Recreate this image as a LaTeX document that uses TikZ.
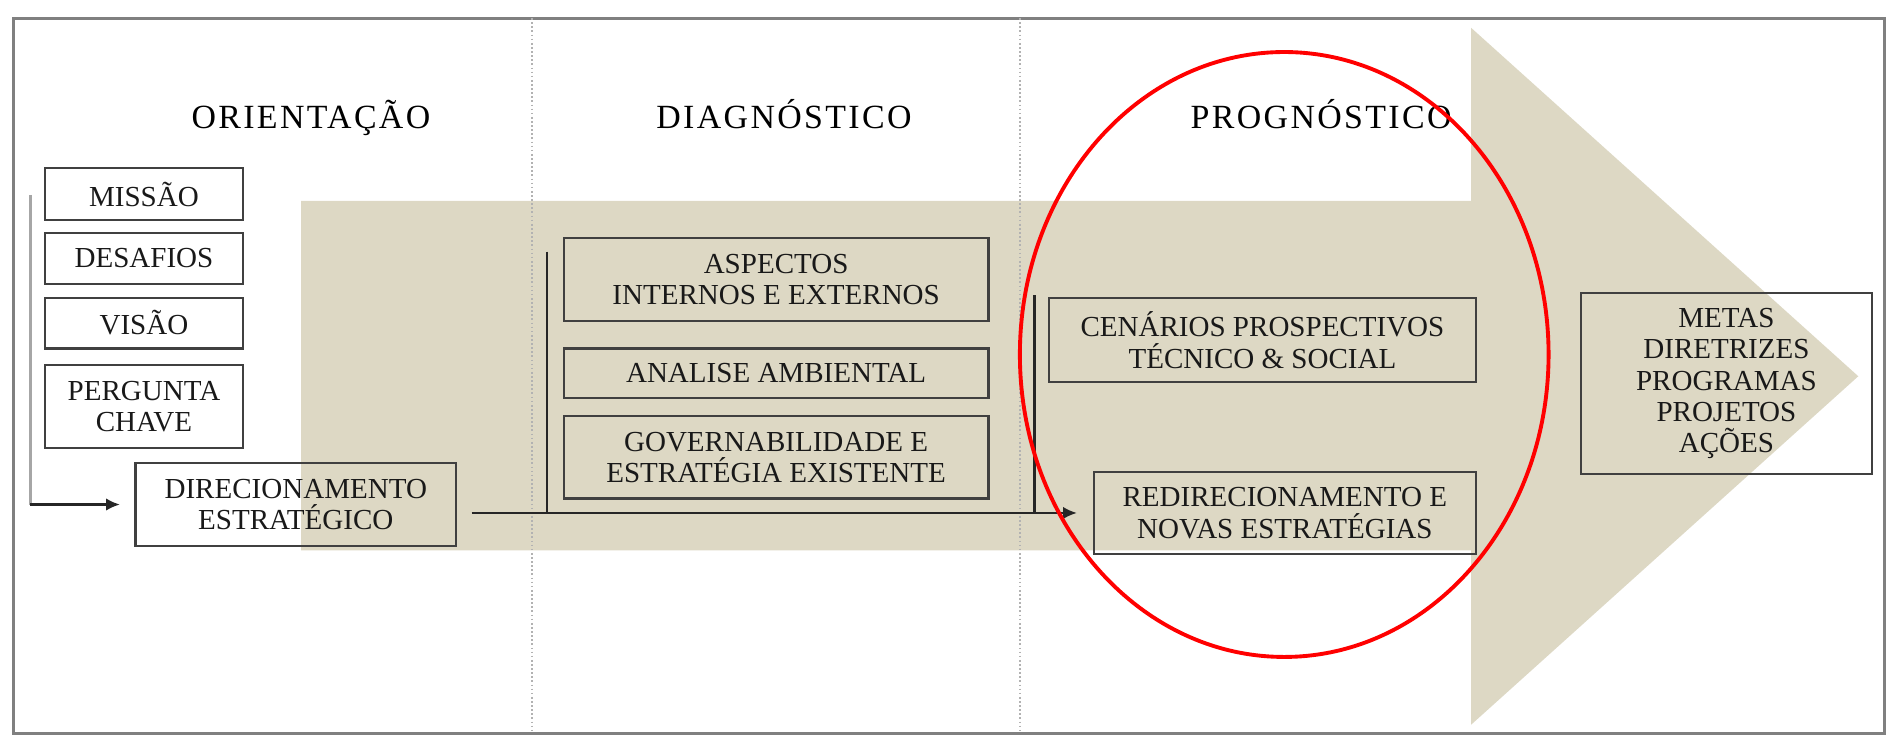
\documentclass[tikz,border=0pt]{standalone}
\usepackage{fontspec}
\setmainfont{Liberation Serif}
\newfontfamily\stagefont[LetterSpace=7]{Liberation Serif}
\usetikzlibrary{arrows.meta,positioning,calc}
\definecolor{sand}{RGB}{221,216,196}
\tikzset{
  stage/.style={font=\stagefont\fontsize{14}{16}\selectfont,text=black,anchor=base},
  box/.style={draw=black!75,line width=0.9pt,align=center,inner sep=0pt,font=\fontsize{12}{13}\selectfont,text=black!90},
  flow/.style={line width=0.9pt,black!85,-{Latex[length=2mm,width=1.8mm]}},
  link/.style={line width=0.9pt,black!85},
  divider/.style={black!30,densely dotted,line width=0.7pt},
}

\begin{document}
\begin{tikzpicture}[x=0.5pt,y=-0.5pt]
\useasboundingbox (0,0) rectangle (1568,611);
% big arrow in the background
\fill[sand] (249,166) -- (1216,166) -- (1216,23) -- (1536,311) -- (1216,599) -- (1216,455) -- (249,455) -- cycle;
\draw[black!50,line width=1.2pt] (11,15) rectangle (1558,606);
\draw[divider] (440,15) -- (440,606);
\draw[divider] (843,15) -- (843,606);
\node[stage] (ori) at (257,106) {ORIENTAÇÃO};
\node[stage] (dia) at (648,106) {DIAGNÓSTICO};
\node[stage] (pro) at (1092,106) {PROGNÓSTICO};
% orientation
\node[box,minimum width=82pt,minimum height=21.5pt] (mis) at (119,160.5) {MISSÃO};
\node[box,minimum width=82pt,minimum height=21pt] (des) at (119,213.5) {DESAFIOS};
\node[box,minimum width=82pt,minimum height=21pt] (vis) at (119,267) {VISÃO};
\node[box,minimum width=82pt,minimum height=34pt] (per) at (119,336) {PERGUNTA\\CHAVE};
\node[box,minimum width=132.5pt,minimum height=34pt] (dir) at (244.5,417) {DIRECIONAMENTO\\ESTRATÉGICO};
% diagnosis
\node[box,minimum width=175.5pt,minimum height=34pt] (asp) at (641.5,231) {ASPECTOS\\INTERNOS E EXTERNOS};
\node[box,minimum width=175.5pt,minimum height=20.5pt] (ana) at (641.5,308.5) {ANALISE AMBIENTAL};
\node[box,minimum width=175.5pt,minimum height=34pt] (gov) at (641.5,378) {GOVERNABILIDADE E\\ESTRATÉGIA EXISTENTE};
% prognosis
\node[box,minimum width=176.5pt,minimum height=35pt] (cen) at (1043.5,281) {CENÁRIOS PROSPECTIVOS\\TÉCNICO \& SOCIAL};
\node[box,minimum width=158pt,minimum height=34pt] (red) at (1062,424) {REDIRECIONAMENTO E\\NOVAS ESTRATÉGIAS};
\node[box,minimum width=120pt,minimum height=75pt] (met) at (1427,317) {METAS\\DIRETRIZES\\PROGRAMAS\\PROJETOS\\AÇÕES};
% connectors
\coordinate (lt) at (25,161);
\coordinate (dg) at (452,208);
\coordinate (pg) at (855,244);
\draw[line width=1.2pt,black!35] (lt) -- (lt |- dir.west);
\draw[flow] (lt |- dir.west) -- ([xshift=-6pt]dir.west);
\draw[flow] ([xshift=6pt]dir.east |- red.west) -- ([xshift=-6.5pt]red.west);
\draw[link] (dg) -- (dg |- red.west);
\draw[link] (pg) -- (pg |- red.west);
\draw[red,line width=1.6pt] (1061.5,293) ellipse [x radius=109.25pt,y radius=125pt];
\end{tikzpicture}
\end{document}
